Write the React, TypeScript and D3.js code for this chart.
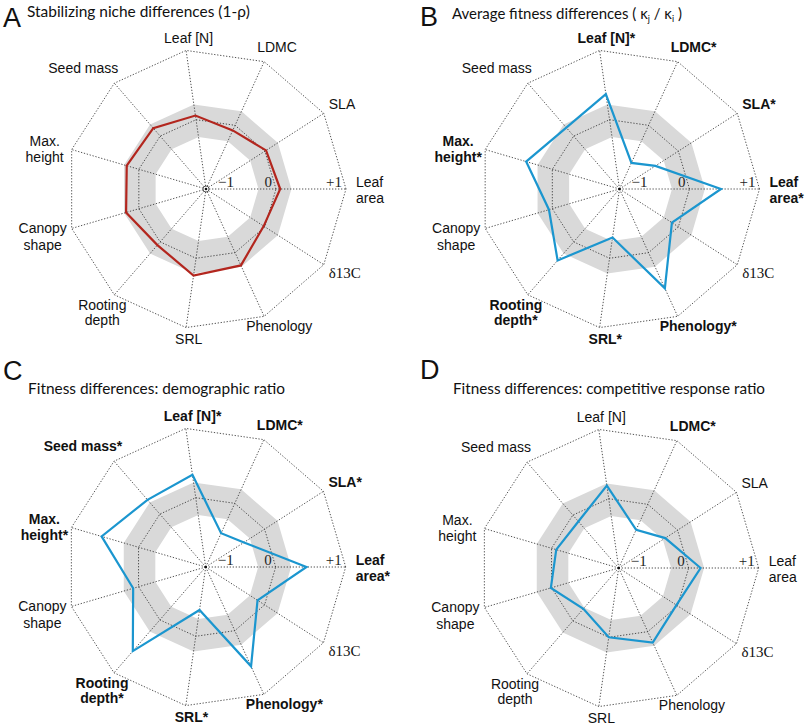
import React from "react";
import * as d3 from "d3";

// trait axes, counter-clockwise from 3 o'clock
const traits = [
  "Leaf area",
  "SLA",
  "LDMC",
  "Leaf [N]",
  "Seed mass",
  "Max. height",
  "Canopy shape",
  "Rooting depth",
  "SRL",
  "Phenology",
  "δ13C",
];

const nicheValues = [0.06, 0.02, -0.08, 0.06, 0.15, 0.18, 0.19, 0.06, 0.25, 0.2, -0.02];
const avgFitnessValues = [0.45, -0.39, -0.59, 0.37, 0.16, 0.39, 0.05, 0.35, -0.3, 0.56, -0.11];
const demographicValues = [0.44, -0.35, -0.47, 0.33, 0.27, 0.55, 0.08, 0.59, -0.38, 0.56, -0.12];
const responseValues = [0.17, -0.21, -0.4, 0.19, -0.12, -0.07, 0.01, -0.23, 0.0, 0.17, -0.02];

const sigNiche = [false, false, false, false, false, false, false, false, false, false, false];
const sigAvgFitness = [true, true, true, true, false, true, false, true, true, true, false];
const sigDemographic = [true, true, true, true, true, true, false, true, true, true, false];
const sigResponse = [false, false, true, false, false, false, false, false, false, false, false];

// grey null band (lower, upper)
const nullBand = [-0.25, 0.22];
const tickValues = [-1, 0, 1];
const tickLabels = ["\u22121", "0", "+1"];

const R = 140;
const n = traits.length;
const step = (2 * Math.PI) / n;

// label placement relative to the outer vertex of each axis
const labelLayout = [
  { anchor: "start", dx: 10, dy: -2, lh: 16 },
  { anchor: "start", dx: 5, dy: -4, lh: 16 },
  { anchor: "start", dx: -7, dy: -10, lh: 16 },
  { anchor: "start", dx: -22, dy: -7, lh: 16 },
  { anchor: "middle", dx: -31, dy: -10, lh: 16 },
  { anchor: "middle", dx: -27, dy: -3.5, lh: 16 },
  { anchor: "middle", dx: -29, dy: 5, lh: 16.5 },
  { anchor: "middle", dx: -12, dy: 15, lh: 15.5 },
  { anchor: "start", dx: -11, dy: 16, lh: 16 },
  { anchor: "start", dx: -18, dy: 15, lh: 16 },
  { anchor: "start", dx: 5, dy: 13, lh: 16 },
];

const splitLabel = (s) => {
  if (s === "Leaf area") return ["Leaf", "area"];
  if (s === "Max. height") return ["Max.", "height"];
  if (s === "Canopy shape") return ["Canopy", "shape"];
  if (s === "Rooting depth") return ["Rooting", "depth"];
  return [s];
};

const sans = "'Liberation Sans', Arial, Helvetica, sans-serif";
const serif = "'Liberation Serif', 'Times New Roman', serif";
const titleFont = "Lato, 'Open Sans', sans-serif";

function Radar({ cx, cy, values, color, stars, openCenter }) {
  const r = d3.scaleLinear().domain([-1, 1]).range([0, R]);
  const ring = d3
    .lineRadial<number>()
    .angle((_, i) => Math.PI / 2 - i * step)
    .radius((v) => r(v))
    .curve(d3.curveLinearClosed);
  const vx = (i, v) => cx + r(v) * Math.cos(i * step);
  const vy = (i, v) => cy - r(v) * Math.sin(i * step);

  const band = ring(traits.map(() => nullBand[1])) + ring(traits.map(() => nullBand[0]));
  const dotted = { fill: "none", stroke: "#333", strokeWidth: 0.85, strokeDasharray: "1.3 1.7" };

  return (
    <g>
      <g transform={`translate(${cx},${cy})`}>
        <path d={band} fill="#d9d9d9" fillRule="evenodd" />
        <path d={ring(traits.map(() => 1))} {...dotted} />
        <path d={ring(traits.map(() => 0))} {...dotted} />
      </g>
      {traits.map((t, i) => (
        <line key={t} x1={cx} y1={cy} x2={vx(i, 1)} y2={vy(i, 1)} {...dotted} />
      ))}
      <path
        transform={`translate(${cx},${cy})`}
        d={ring(values)}
        fill="none"
        stroke={color}
        strokeWidth={2.2}
        strokeLinejoin="miter"
      />
      {openCenter && <circle cx={cx} cy={cy} r={3} fill="white" stroke="#333" strokeWidth={0.8} />}
      <circle cx={cx} cy={cy} r={1.3} fill="#111" />
      {tickValues.map((v, k) => (
        <text
          key={v}
          x={cx + (v === -1 ? 28 : r(v) - 4)}
          y={cy - 2}
          textAnchor="end"
          fontFamily={serif}
          fontSize={15}
          fill="#222"
        >
          {tickLabels[k]}
        </text>
      ))}
      {traits.map((t, i) => {
        const lay = labelLayout[i];
        const lines = splitLabel(t);
        const x = vx(i, 1) + lay.dx;
        const y = vy(i, 1) + lay.dy;
        const bold = stars[i];
        const isDelta = t === "δ13C";
        return (
          <text
            key={t}
            x={x}
            y={y}
            textAnchor={lay.anchor}
            fontFamily={isDelta ? serif : sans}
            fontSize={isDelta ? 15 : 14}
            fontWeight={bold ? "bold" : "normal"}
            fill="#111"
          >
            {lines.map((l, j) => (
              <tspan key={j} x={x} dy={j === 0 ? 0 : lay.lh}>
                {l + (bold && j === lines.length - 1 ? "*" : "")}
              </tspan>
            ))}
          </text>
        );
      })}
    </g>
  );
}

export default function App() {
  const titleProps = { fontFamily: titleFont, fontSize: 15, fill: "#111", lengthAdjust: "spacingAndGlyphs" };
  return (
    <svg
      width={805}
      height={728}
      style={{ position: "absolute", left: 0, top: 0, background: "white" }}
    >
      <rect width={805} height={728} fill="white" />

      <text x={3} y={27} fontFamily={sans} fontSize={27} fill="#111">A</text>
      <text x={27} y={17} textLength={223} {...titleProps}>
        Stabilizing niche differences (1-ρ)
      </text>
      <Radar cx={206} cy={189} values={nicheValues} color="#b3261e" stars={sigNiche} openCenter />

      <text x={420} y={26} fontFamily={sans} fontSize={27} fill="#111">B</text>
      <text x={452} y={19} textLength={230} {...titleProps}>
        <tspan>Average fitness differences ( κ</tspan>
        <tspan dy={3} fontSize={9}>j</tspan>
        <tspan dy={-3}> / κ</tspan>
        <tspan dy={3} fontSize={9}>i</tspan>
        <tspan dy={-3}> )</tspan>
      </text>
      <Radar cx={619.5} cy={189} values={avgFitnessValues} color="#1b96cf" stars={sigAvgFitness} />

      <text x={3} y={380} fontFamily={sans} fontSize={27} fill="#111">C</text>
      <text x={28} y={394} textLength={257} {...titleProps}>
        Fitness differences: demographic ratio
      </text>
      <Radar cx={205.7} cy={567} values={demographicValues} color="#1b96cf" stars={sigDemographic} />

      <text x={420} y={379} fontFamily={sans} fontSize={27} fill="#111">D</text>
      <text x={453} y={394} textLength={312} {...titleProps}>
        Fitness differences: competitive response ratio
      </text>
      <Radar cx={618.7} cy={568} values={responseValues} color="#1b96cf" stars={sigResponse} />
    </svg>
  );
}
